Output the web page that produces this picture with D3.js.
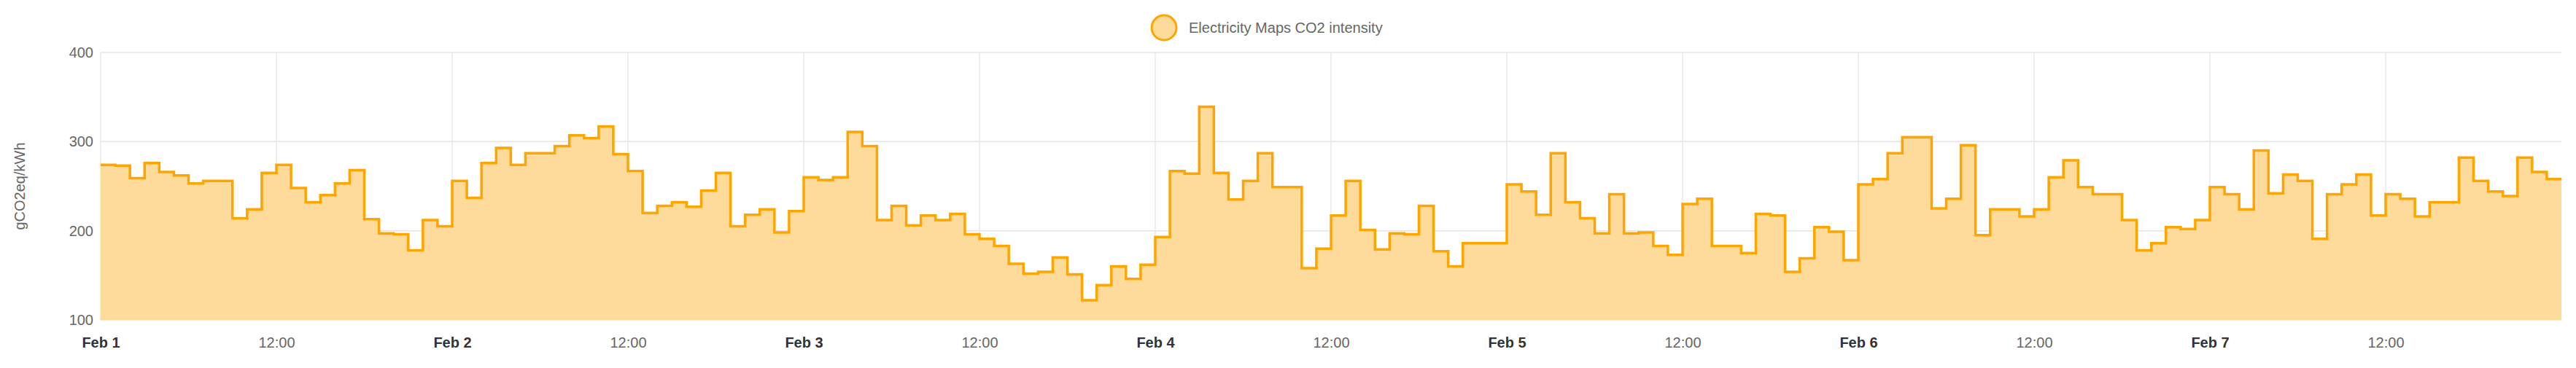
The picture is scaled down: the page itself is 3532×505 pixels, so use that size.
<!DOCTYPE html>
<html>
<head>
<meta charset="utf-8">
<script src="https://cdn.jsdelivr.net/npm/d3@7"></script>
<style>
  body { margin: 0; background: #fff; }
  svg { display: block; font-family: "Liberation Sans", Arial, sans-serif; overflow: visible; }
</style>
</head>
<body>
<svg id="chart"></svg>
<script>
// hourly CO2 intensity, Feb 1 00:00 -> Feb 7 23:00
const startTime = new Date(2024, 1, 1, 0, 0);
const intensity = [
  274, 273, 259, 276, 266, 262, 253, 256, 256, 214, 224, 265, 274, 248, 232, 240, 253, 268, 213, 197, 196, 178, 212, 205,
  256, 237, 276, 293, 274, 287, 287, 295, 307, 304, 317, 286, 267, 220, 228, 232, 227, 245, 265, 205, 218, 224, 198, 222,
  260, 257, 260, 311, 295, 212, 228, 206, 217, 212, 219, 196, 191, 183, 163, 152, 154, 170, 151, 122, 139, 160, 146, 162,
  193, 267, 264, 339, 265, 235, 256, 287, 249, 249, 158, 180, 217, 256, 201, 179, 197, 196, 228, 177, 160, 186, 186, 186,
  252, 244, 218, 287, 232, 214, 197, 241, 197, 198, 183, 173, 230, 236, 183, 183, 175, 219, 217, 154, 169, 204, 199, 167,
  252, 258, 287, 305, 305, 225, 236, 296, 195, 224, 224, 216, 224, 260, 279, 249, 241, 241, 212, 178, 186, 204, 202, 212,
  249, 241, 224, 290, 242, 263, 256, 191, 241, 252, 263, 217, 241, 236, 216, 232, 232, 282, 256, 244, 239, 282, 266, 258
];
const yTicks = [100, 200, 300, 400];
const seriesName = 'Electricity Maps CO2 intensity';
const yTitle = 'gCO2eq/kWh';

const width = 3532, height = 505;
const margin = { top: 72, right: 20, bottom: 66, left: 138 };
const innerWidth = width - margin.left - margin.right;
const innerHeight = height - margin.top - margin.bottom;

const data = intensity.map((v, i) => ({ t: d3.timeHour.offset(startTime, i), v }));
data.push({ t: d3.timeHour.offset(startTime, intensity.length), v: intensity[intensity.length - 1] });

const svg = d3.select('#chart').attr('width', width).attr('height', height);
const g = svg.append('g').attr('transform', `translate(${margin.left},${margin.top})`);

const x = d3.scaleTime().domain([startTime, d3.timeHour.offset(startTime, intensity.length)]).range([0, innerWidth]);
const y = d3.scaleLinear().domain([100, 400]).range([innerHeight, 0]);

// grid
g.append('g').selectAll('line').data(yTicks).enter().append('line')
  .attr('x1', 0).attr('x2', innerWidth)
  .attr('y1', d => y(d)).attr('y2', d => y(d))
  .attr('stroke', '#e4e4e4').attr('stroke-width', 1.5);

const xTicks = d3.timeHour.every(12).range(startTime, d3.timeHour.offset(startTime, intensity.length));
g.append('g').selectAll('line').data(xTicks).enter().append('line')
  .attr('x1', d => x(d)).attr('x2', d => x(d))
  .attr('y1', 0).attr('y2', innerHeight)
  .attr('stroke', '#e8e8e8').attr('stroke-width', 1.5);

// area + line
g.append('path').datum(data)
  .attr('fill', '#fedb9b')
  .attr('d', d3.area().curve(d3.curveStepAfter).x(d => x(d.t)).y0(innerHeight).y1(d => y(d.v)));
g.append('path').datum(data)
  .attr('fill', 'none').attr('stroke', '#ffa500').attr('stroke-width', 3.5)
  .attr('d', d3.line().curve(d3.curveStepAfter).x(d => x(d.t)).y(d => y(d.v)));

// axes
const yAxis = g.append('g').call(d3.axisLeft(y).tickValues(yTicks).tickSize(0).tickPadding(10));
yAxis.select('.domain').remove();
yAxis.selectAll('text').attr('font-size', 20).attr('fill', '#666');

const xAxis = g.append('g').attr('transform', `translate(0,${innerHeight})`)
  .call(d3.axisBottom(x).tickValues(xTicks).tickSize(0).tickPadding(24)
    .tickFormat(d => d.getHours() === 0 ? d3.timeFormat('%b %-d')(d) : d3.timeFormat('%H:%M')(d)));
xAxis.select('.domain').remove();
xAxis.selectAll('text')
  .attr('font-size', 20)
  .attr('fill', d => d.getHours() === 0 ? '#333' : '#666')
  .attr('font-weight', d => d.getHours() === 0 ? 'bold' : 'normal');

// y title
svg.append('text')
  .attr('transform', `translate(34,${margin.top + innerHeight / 2}) rotate(-90)`)
  .attr('text-anchor', 'middle').attr('font-size', 20).attr('fill', '#666')
  .text(yTitle);

// legend
const legend = svg.append('g').attr('transform', `translate(${width / 2 - 170},38)`);
legend.append('ellipse').attr('cx', 0).attr('cy', 0).attr('rx', 17).attr('ry', 17)
  .attr('fill', '#fedb9b').attr('stroke', '#ffa500').attr('stroke-width', 3);
legend.append('text').attr('x', 34).attr('y', 7).attr('font-size', 20).attr('fill', '#666')
  .text(seriesName);
</script>
</body>
</html>
